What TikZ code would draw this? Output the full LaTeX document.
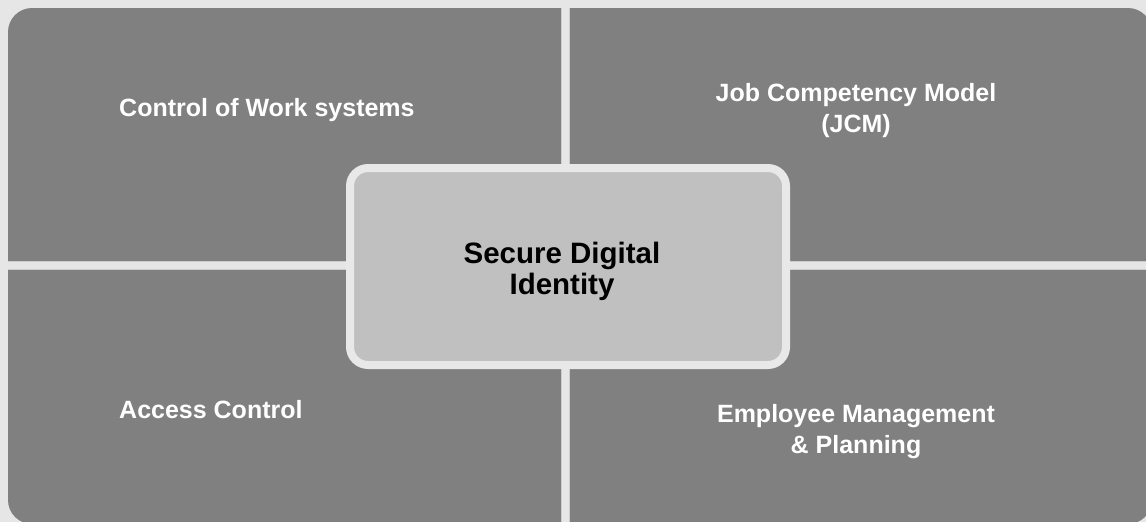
\documentclass[tikz,border=0pt]{standalone}
\usepackage{fontspec}
\setmainfont{Liberation Sans}
\definecolor{bgcol}{HTML}{E6E6E6}
\definecolor{panelcol}{HTML}{808080}
\definecolor{gapedge}{HTML}{CDCDCD}
\definecolor{corecol}{HTML}{C0C0C0}
\definecolor{rimcol}{HTML}{E8E8E8}
\tikzset{
  labeltext/.style={text=white, font=\fontsize{25}{31}\selectfont\bfseries, align=center, inner sep=0pt},
  coretext/.style={text=black, font=\fontsize{29.5}{31}\selectfont\bfseries, align=center},
  corebox/.style={draw=rimcol, line width=8pt, fill=corecol, rounded corners=18pt,
    minimum width=436pt, minimum height=197pt, inner sep=0pt},
  gapline/.style={draw=gapedge, line width=9pt},
  gapfill/.style={draw=bgcol, line width=7pt}
}
\begin{document}
\begin{tikzpicture}[x=1pt,y=-1pt]
  \useasboundingbox (0,0) rectangle (1146,522);
  \fill[bgcol] (0,0) rectangle (1146,522);
  \begin{scope}
    \clip (0,0) rectangle (1146,522);
    % grey panel behind the four quadrants
    \fill[panelcol, rounded corners=24pt] (8,8) rectangle (1152,524);
    % separating gaps between the quadrants
    \draw[gapline] (565,8) -- (565,524);
    \draw[gapline] (8,265) -- (1152,265);
    \draw[gapfill] (565,8) -- (565,524);
    \draw[gapfill] (8,265) -- (1152,265);
  \end{scope}
  % quadrant labels
  \node[labeltext, anchor=west] (cow) at (119,110) {Control of Work systems};
  \node[labeltext] (jcm) at (856,111) {Job Competency Model\\(JCM)};
  \node[labeltext, anchor=west] (acc) at (119,410) {Access Control};
  \node[labeltext] (emp) at (856,432) {Employee Management\\\& Planning};
  % central box
  \node[corebox] (core) at (568,266.5) {};
  \node[coretext] (sdi) at (562,271) {Secure Digital\\Identity};
\end{tikzpicture}
\end{document}
